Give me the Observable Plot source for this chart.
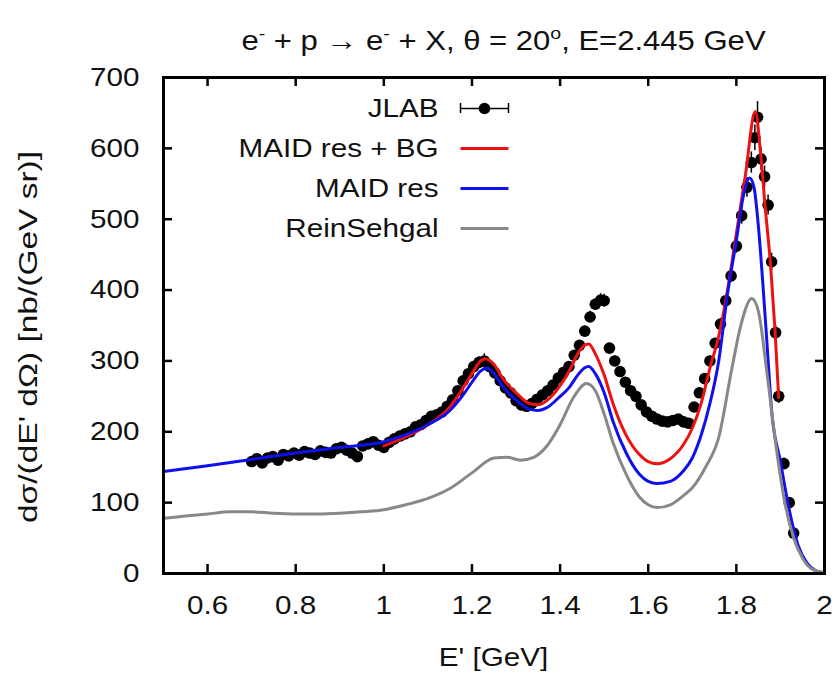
<!DOCTYPE html>
<html>
<head>
<meta charset="utf-8">
<script src="https://cdn.jsdelivr.net/npm/d3@7"></script>
<script src="https://cdn.jsdelivr.net/npm/@observablehq/plot@0.6"></script>
<style>
  body { margin: 0; background: #fff; }
  #chart svg { display: block; }
</style>
</head>
<body>
<div id="chart"></div>
<script>
// ---- data ----
const titleText = ["e", "-", " + p \u2192 e", "-", " + X, \u03b8 = 20", "o", ", E=2.445 GeV"];
const xLabel = "E' [GeV]";
const yLabel = "d\u03c3/(dE' d\u03a9) [nb/(GeV sr)]";
const xTicks = [0.6, 0.8, 1, 1.2, 1.4, 1.6, 1.8, 2];
const yTicks = [0, 100, 200, 300, 400, 500, 600, 700];

const legendLabels = ["JLAB", "MAID res + BG", "MAID res", "ReinSehgal"];
const legendColors = ["#000000", "#ee1111", "#1010ee", "#888888"];

// JLAB data
const jlabE = [0.700,0.712,0.724,0.736,0.748,0.760,0.772,0.784,0.796,0.808,0.820,0.832,0.844,0.856,0.868,0.880,0.892,0.904,0.916,0.928,0.940,0.952,0.964,0.976,0.988,1.000,
  1.012,1.024,1.036,1.048,1.060,1.072,1.084,1.096,1.108,1.120,1.132,1.144,1.156,1.168,1.180,1.192,1.204,1.216,1.228,1.240,1.252,1.264,1.276,1.288,1.300,
  1.312,1.324,1.336,1.348,1.360,1.372,1.384,1.396,1.408,1.420,1.432,1.444,1.456,1.468,1.480,1.492,1.500,
  1.512,1.524,1.536,1.548,1.560,1.572,1.584,1.596,1.608,1.620,1.632,1.644,1.656,1.668,1.680,1.692,
  1.704,1.716,1.728,1.740,1.752,1.764,1.776,1.788,1.800,1.812,1.824,1.834,1.842,1.848,1.856,1.864,1.872,1.880,1.889,1.896,1.908,1.920,1.930];
const jlabXS = [158,162,156,163,165,160,168,166,170,167,172,170,168,173,171,170,176,178,174,170,165,180,183,186,181,178,
  185,190,194,197,200,207,210,216,222,224,228,236,245,258,272,282,292,298,300,292,283,272,262,255,244,
  238,236,240,246,252,258,266,276,284,292,308,322,342,362,380,386,385,
  318,300,285,270,258,250,238,228,222,218,215,214,216,218,214,212,
  235,255,275,300,325,352,385,420,462,505,545,580,615,644,585,560,520,440,340,250,155,100,57];
const jlabErr = [4,4,4,4,4,4,4,4,4,4,4,4,4,4,4,4,4,4,4,4,4,4,4,4,4,4,
  5,5,5,5,5,5,5,5,5,5,5,5,5,6,6,6,7,8,10,8,6,6,6,5,5,
  5,5,5,5,5,5,6,6,6,6,6,7,7,8,8,9,9,
  7,7,6,6,6,5,5,5,5,5,5,5,5,5,5,5,
  6,6,6,7,7,8,8,9,10,12,14,15,18,22,16,15,14,12,10,10,8,6,5];

// MAID res (blue)
const maidE = [0.50,0.60,0.70,0.80,0.90,1.00,1.05,1.10,1.15,1.18,1.20,1.22,1.235,1.25,1.27,1.30,1.33,1.35,1.37,1.40,1.42,1.44,1.455,1.465,1.48,1.50,1.52,1.55,1.58,1.60,1.62,1.65,1.68,1.70,1.72,1.74,1.76,1.78,1.80,1.815,1.83,1.84,1.85,1.86,1.87,1.88,1.90,1.92,1.94,1.96,1.98,2.00];
const maidXS = [144,152,161,170,178,186,196,210,230,252,270,286,290,282,264,245,232,230,234,250,262,280,290,292,282,255,215,170,140,130,127,130,145,163,195,240,300,395,470,530,558,545,490,410,320,230,158,90,40,15,4,1];

// MAID res + BG (red)
const bgE = [1.00,1.05,1.10,1.15,1.18,1.20,1.22,1.23,1.25,1.27,1.30,1.33,1.35,1.37,1.40,1.42,1.44,1.455,1.465,1.48,1.50,1.52,1.55,1.58,1.60,1.62,1.65,1.68,1.70,1.72,1.74,1.76,1.78,1.80,1.82,1.843,1.855,1.865,1.878,1.888,1.896];
const bgXS = [180,193,210,235,262,282,300,303,295,275,255,240,238,244,265,285,310,322,324,310,280,240,195,168,158,155,162,182,205,240,290,335,400,480,560,652,593,520,432,340,248];

// ReinSehgal (grey)
const rsE = [0.50,0.55,0.60,0.65,0.70,0.75,0.80,0.85,0.90,0.95,1.00,1.05,1.10,1.15,1.20,1.25,1.28,1.31,1.34,1.37,1.40,1.43,1.46,1.48,1.50,1.52,1.55,1.58,1.60,1.62,1.65,1.68,1.70,1.73,1.76,1.79,1.81,1.835,1.85,1.87,1.89,1.91,1.93,1.95,1.97,2.00];
const rsXS = [78,81,84,87,87,85,84,84,85,87,90,97,106,120,142,163,164,160,164,180,210,248,268,258,225,185,140,108,97,93,97,110,121,150,192,290,350,388,370,280,180,100,50,22,7,1];

// ---- layout ----
const W = 840, H = 673, mL = 163, mR = 16, mT = 77, mB = 100;
const font = "'Liberation Sans', Arial, Helvetica, sans-serif";
const stretch = 1.14; // the reference text is drawn a little wide
const plotH = H - mT - mB, plotW = W - mL - mR;

const jlab = jlabE.map((e, i) => ({e, v: jlabXS[i], lo: jlabXS[i] - jlabErr[i], hi: jlabXS[i] + jlabErr[i]}));
const maid = maidE.map((e, i) => ({e, v: maidXS[i]}));
const bg = bgE.map((e, i) => ({e, v: bgXS[i]}));
const rs = rsE.map((e, i) => ({e, v: rsXS[i]}));

// helper scales to put the legend in data space
const xs = Plot.scale({x: {domain: [0.5, 2], range: [mL, W - mR]}});
const ys = Plot.scale({y: {domain: [0, 700], range: [H - mB, mT]}});
const legend = legendLabels.map((label, i) => ({
  label, color: legendColors[i],
  tx: xs.invert(mL + 275), sx1: xs.invert(mL + 297), sx2: xs.invert(mL + 345), sxm: xs.invert(mL + 321),
  y: ys.invert(mT + 31 + i * 40),
  capLo: ys.invert(mT + 31 + i * 40 + 5), capHi: ys.invert(mT + 31 + i * 40 - 5)
}));

const chart = Plot.plot({
  width: W, height: H,
  marginLeft: mL, marginRight: mR, marginTop: mT, marginBottom: mB,
  style: {fontFamily: font, fontSize: "26px", color: "#111", background: "#fff"},
  x: {type: "linear", domain: [0.5, 2]},
  y: {type: "linear", domain: [0, 700]},
  marks: [
    Plot.axisX({ticks: xTicks, tickSize: 0, tickPadding: 22, fontSize: 26, label: null, tickFormat: d => String(d)}),
    Plot.axisY({ticks: yTicks, tickSize: 0, tickPadding: 24, fontSize: 26, label: null, tickFormat: d => String(d)}),
    // JLAB points with error bars
    Plot.ruleX(jlab, {x: "e", y1: "lo", y2: "hi", stroke: "#000", strokeWidth: 1.5}),
    Plot.dot(jlab, {x: "e", y: "v", r: 5.8, fill: "#000"}),
    // model curves
    Plot.line(bg, {x: "e", y: "v", stroke: legendColors[1], strokeWidth: 3, curve: "monotone-x"}),
    Plot.line(maid, {x: "e", y: "v", stroke: legendColors[2], strokeWidth: 3, curve: "monotone-x"}),
    Plot.line(rs, {x: "e", y: "v", stroke: legendColors[3], strokeWidth: 3, curve: "monotone-x"}),
    // legend
    Plot.text(legend, {x: "tx", y: "y", text: "label", textAnchor: "end", fontSize: 26, fill: "#111"}),
    Plot.link(legend, {x1: "sx1", x2: "sx2", y1: "y", y2: "y", stroke: "color", strokeWidth: d => d.label === "JLAB" ? 1.5 : 3}),
    Plot.dot(legend.slice(0, 1), {x: "sxm", y: "y", r: 5.8, fill: "#000"}),
    Plot.ruleX(legend.slice(0, 1), {x: "sx1", y1: "capLo", y2: "capHi", stroke: "#000", strokeWidth: 1.5}),
    Plot.ruleX(legend.slice(0, 1), {x: "sx2", y1: "capLo", y2: "capHi", stroke: "#000", strokeWidth: 1.5}),
    // inward ticks on all four sides
    Plot.ruleX(xTicks.filter(t => t < 2), {insetTop: plotH - 9, stroke: "#000", strokeWidth: 2.5}),
    Plot.ruleX(xTicks.filter(t => t < 2), {insetBottom: plotH - 9, stroke: "#000", strokeWidth: 2.5}),
    Plot.ruleY(yTicks.filter(t => t > 0 && t < 700), {insetRight: plotW - 9, stroke: "#000", strokeWidth: 2.5}),
    Plot.ruleY(yTicks.filter(t => t > 0 && t < 700), {insetLeft: plotW - 9, stroke: "#000", strokeWidth: 2.5}),
    Plot.frame({stroke: "#000", strokeWidth: 3})
  ]
});

document.getElementById("chart").appendChild(chart);
const svgNS = "http://www.w3.org/2000/svg";
// widen Plot's texts about their anchor points, wrapping each in a scaling group
Array.from(chart.querySelectorAll("text")).forEach(node => {
  const r = node.getBoundingClientRect();
  const anchor = getComputedStyle(node).textAnchor;
  const sx = anchor === "end" ? r.right : anchor === "middle" ? (r.left + r.right) / 2 : r.left;
  const p = chart.createSVGPoint(); p.x = sx; p.y = r.top;
  const q = p.matrixTransform(node.parentNode.getScreenCTM().inverse());
  const g = document.createElementNS(svgNS, "g");
  g.setAttribute("transform", `translate(${q.x},0) scale(${stretch},1) translate(${-q.x},0)`);
  node.parentNode.insertBefore(g, node);
  g.appendChild(node);
});

const svg = d3.select(chart);
// title with superscripts
const t = svg.append("text")
  .attr("transform", `translate(${mL + plotW / 2 + 10},50) scale(1.15,1)`)
  .attr("text-anchor", "middle")
  .attr("font-family", font).attr("font-size", 27).attr("fill", "#111");
titleText.forEach((s, i) => {
  const sup = (i === 1 || i === 3 || i === 5);
  const ts = t.append("tspan").text(s);
  if (sup) ts.attr("dy", -11).attr("font-size", 17);
  else if (i > 0) ts.attr("dy", 11);
});
// axis labels
svg.append("text")
  .attr("transform", `translate(${mL + plotW / 2},666) scale(${stretch},1)`)
  .attr("text-anchor", "middle")
  .attr("font-family", font).attr("font-size", 26).attr("fill", "#111")
  .text(xLabel);
svg.append("text")
  .attr("transform", `translate(37, 337) rotate(-90)`)
  .attr("text-anchor", "middle")
  .attr("font-family", font).attr("font-size", 26).attr("fill", "#111")
  .attr("textLength", 372).attr("lengthAdjust", "spacingAndGlyphs")
  .text(yLabel);
</script>
</body>
</html>
